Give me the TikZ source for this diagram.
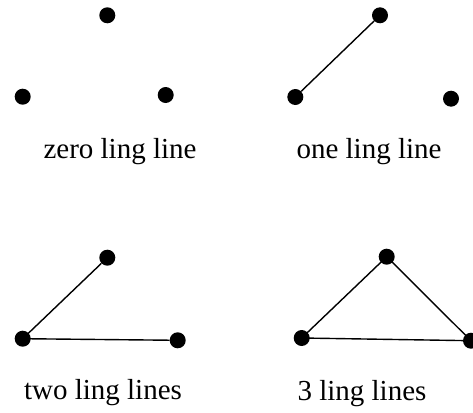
\documentclass[tikz,border=0pt]{standalone}
\usepackage{fontspec}
\setmainfont{Liberation Serif}
\begin{document}
\begin{tikzpicture}[x=1pt,y=-1pt,
  dot/.style={circle,fill=black,inner sep=0pt,minimum size=16pt},
  edge/.style={line width=1.4pt},
  caption/.style={anchor=base,inner sep=0pt,font=\fontsize{29}{34}\selectfont}]
\clip (0,0) rectangle (473,412);
\useasboundingbox (0,0) rectangle (473,412);
% panel 1
\node[dot] (a1) at (107.3,15.3) {};
\node[dot] (a2) at (22.7,96.7) {};
\node[dot] (a3) at (165.7,95) {};
\node[caption] (la) at (120,158.3) {zero ling line};
% panel 2
\node[dot] (b1) at (380,15.3) {};
\node[dot] (b2) at (295.3,97) {};
\node[dot] (b3) at (451,98.7) {};
\node[caption] (lb) at (369,158.3) {one ling line};
\draw[edge] (b1) -- (b2);
% panel 3
\node[dot] (c1) at (107.3,257.7) {};
\node[dot] (c2) at (22.7,338.7) {};
\node[dot] (c3) at (177.7,340.3) {};
\node[caption] (lc) at (103,399.3) {two ling lines};
\draw[edge] (c1) -- (c2.center) -- (c3);
% panel 4
\node[dot] (d1) at (386.7,256.7) {};
\node[dot] (d2) at (301.7,338) {};
\node[dot] (d3) at (471,340.7) {};
\node[caption] (ld) at (362,400) {3 ling lines};
\draw[edge] (d1.center) -- (d2.center) -- (d3.center) -- cycle;
\end{tikzpicture}
\end{document}
